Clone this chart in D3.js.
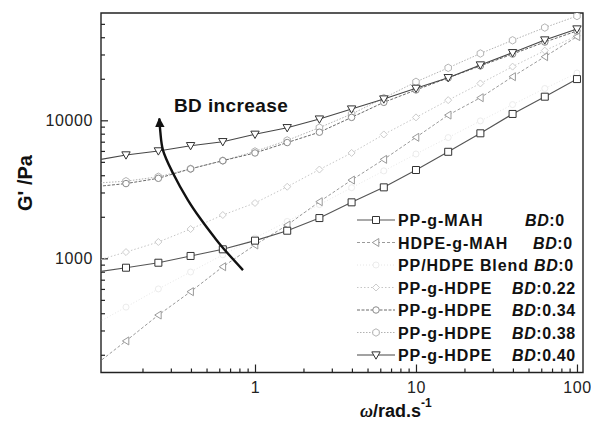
<!DOCTYPE html>
<html><head><meta charset="utf-8">
<script src="https://cdn.jsdelivr.net/npm/d3@7"></script>
<style>body{margin:0;background:#fff} svg{display:block}</style>
</head><body><svg id="c" width="591" height="427"></svg>
<script>
// ---- data ----
const freq     = [0.1, 0.158, 0.251, 0.398, 0.631, 1, 1.585, 2.512, 3.981, 6.31, 10, 15.85, 25.12, 39.81, 63.1, 100];
const ppGMah   = [790, 855, 929, 1040, 1162, 1343, 1585, 1958, 2545, 3268, 4364, 5915, 8051, 11120, 14830, 19900];
const hdpeGMah = [166, 252, 388, 573, 869, 1249, 1741, 2571, 3690, 5212, 7530, 10910, 14580, 20700, 28900, 40400];
const blend    = [330, 443, 600, 796, 1060, 1403, 1850, 2450, 3250, 4300, 5700, 7500, 9900, 13000, 17000, 22000];
const bd022    = [950, 1110, 1313, 1630, 2060, 2518, 3300, 4400, 5800, 7900, 10500, 14000, 18500, 24500, 32000, 41000];
const bd034    = [3300, 3480, 3800, 4450, 5100, 5800, 6900, 8200, 10500, 13500, 16600, 20300, 24800, 30200, 36900, 44400];
const bd038    = [3500, 3620, 3900, 4450, 5100, 5950, 7150, 8850, 11100, 14500, 19000, 24000, 30500, 38000, 47000, 57000];
const bd040    = [5100, 5610, 6000, 6550, 7000, 7920, 8840, 10210, 12070, 14270, 17050, 20370, 25180, 30900, 38200, 45900];
const seriesNames = ["PP-g-MAH", "HDPE-g-MAH", "PP/HDPE Blend", "PP-g-HDPE", "PP-g-HDPE", "PP-g-HDPE", "PP-g-HDPE"];
const bdValues    = [":0", ":0", ":0", ":0.22", ":0.34", ":0.38", ":0.40"];
const xMajor = [1, 10, 100];
const xMinor = [0.2,0.3,0.4,0.5,0.6,0.7,0.8,0.9, 2,3,4,5,6,7,8,9, 20,30,40,50,60,70,80,90];
const yMajor = [1000, 10000];
const yMinor = [200,300,400,500,600,700,800,900, 2000,3000,4000,5000,6000,7000,8000,9000, 20000,30000,40000,50000];
// arrow annotation path in data coordinates (omega, G')
const arrowW = [0.842, 0.633, 0.564, 0.455, 0.383, 0.309, 0.268, 0.258, 0.2545];
const arrowG = [822, 1188, 1403, 1958, 2643, 4150, 6085, 8300, 10300];

// ---- styles ----
const FONT = "Arial, 'Liberation Sans', Helvetica, sans-serif";
const triDown = {draw(c, s){ const r = Math.sqrt(s)/2; c.moveTo(-r,-r*0.75); c.lineTo(r,-r*0.75); c.lineTo(0,r); c.closePath(); }};
const triLeft = {draw(c, s){ const r = Math.sqrt(s)/2; c.moveTo(-r*0.9,0); c.lineTo(r*0.7,-r); c.lineTo(r*0.7,r); c.closePath(); }};
const hexagon = {draw(c, s){ const r = Math.sqrt(s)/2; for(let i=0;i<6;i++){const a=Math.PI/6+i*Math.PI/3; i?c.lineTo(r*Math.cos(a),r*Math.sin(a)):c.moveTo(r*Math.cos(a),r*Math.sin(a));} c.closePath(); }};
const square = {draw(c, s){ const r = Math.sqrt(s)/2; c.rect(-r,-r,2*r,2*r); }};
const circle = {draw(c, s){ const r = Math.sqrt(s)/2; c.moveTo(r,0); c.arc(0,0,r,0,2*Math.PI); }};
const diamond = {draw(c, s){ const r = Math.sqrt(s)/2; c.moveTo(0,-r); c.lineTo(r,0); c.lineTo(0,r); c.lineTo(-r,0); c.closePath(); }};

const series = [
  {vals: ppGMah,   stroke:"#555", mk:"#333", dash:null,      sym:square,  size:49, w:1.1},
  {vals: hdpeGMah, stroke:"#9a9a9a", mk:"#9a9a9a", dash:"3,2", sym:triLeft, size:64, w:1},
  {vals: blend,    stroke:"#e6e6e6", mk:"#ececec", dash:"1,2", sym:circle,  size:36, w:1},
  {vals: bd022,    stroke:"#c6c6c6", mk:"#cccccc", dash:"1.5,2", sym:diamond, size:49, w:1},
  {vals: bd034,    stroke:"#6a6a6a", mk:"#8a8a8a", dash:"3,1.5", sym:circle, size:42, w:1},
  {vals: bd038,    stroke:"#b2b2b2", mk:"#b4b4b4", dash:"1.5,1.5", sym:hexagon, size:56, w:1},
  {vals: bd040,    stroke:"#474747", mk:"#333", dash:null,      sym:triDown, size:70, w:1.1}
];
const drawOrder = [2,3,5,1,4,0,6];

const L = 101, R = 583, T = 13, B = 372.5;
const x = d3.scaleLog().domain([0.1105, 109]).range([L, R]);
const y = d3.scaleLog().domain([148.8, 59930]).range([B, T]);

const svg = d3.select("#c");
svg.append("defs").append("clipPath").attr("id","clip")
  .append("rect").attr("x",L).attr("y",T).attr("width",R-L).attr("height",B-T);
svg.select("defs").append("marker").attr("id","ah").attr("viewBox","0 0 10 10")
  .attr("refX",9).attr("refY",5).attr("markerWidth",4).attr("markerHeight",4.6)
  .attr("orient","auto").attr("markerUnits","strokeWidth")
  .append("path").attr("d","M0,0 L10,5 L0,10 Z").attr("fill","#111");

// axes
function styleAxis(g){ g.select(".domain").remove(); g.selectAll("line").attr("stroke","#222").attr("stroke-width",1.2);
  g.selectAll("text").attr("font-family",FONT).attr("font-size",16).attr("fill","#222").attr("letter-spacing","0.6px"); }
svg.append("g").attr("transform",`translate(0,${B})`)
  .call(d3.axisBottom(x).tickValues(xMajor).tickSizeInner(-8).tickSizeOuter(0).tickPadding(9).tickFormat(d3.format("d"))).call(styleAxis);
svg.append("g").attr("transform",`translate(0,${B})`)
  .call(d3.axisBottom(x).tickValues(xMinor).tickSizeInner(-4).tickSizeOuter(0).tickFormat("")).call(styleAxis);
svg.append("g").attr("transform",`translate(${L},0)`)
  .call(d3.axisLeft(y).tickValues(yMajor).tickSizeInner(-7).tickSizeOuter(0).tickPadding(8).tickFormat(d3.format("d"))).call(styleAxis);
svg.append("g").attr("transform",`translate(${L},0)`)
  .call(d3.axisLeft(y).tickValues(yMinor).tickSizeInner(-4).tickSizeOuter(0).tickFormat("")).call(styleAxis);

svg.append("path").attr("d",`M${L},${T}H${R}V${B}H${L}Z`).attr("fill","none").attr("stroke","#222").attr("stroke-width",1.4);

// series
const plot = svg.append("g").attr("clip-path","url(#clip)");
const line = d3.line().x((d,i)=>x(freq[i])).y(d=>y(d));
drawOrder.forEach(k=>{
  const s = series[k];
  plot.append("path").attr("d",line(s.vals)).attr("fill","none").attr("stroke",s.stroke)
    .attr("stroke-width",s.w).attr("stroke-dasharray",s.dash);
  plot.selectAll(null).data(s.vals).enter().append("path")
    .attr("transform",(d,i)=>`translate(${x(freq[i])},${y(d)})`)
    .attr("d",d3.symbol().type(s.sym).size(s.size)()).attr("fill","#fff").attr("stroke",s.mk).attr("stroke-width",1);
});

// arrow annotation
const aline = d3.line().x((d,i)=>x(arrowW[i])).y(d=>y(d)).curve(d3.curveCatmullRom);
svg.append("path").attr("d",aline(arrowG)).attr("fill","none").attr("stroke","#111").attr("stroke-width",2.4)
  .attr("marker-end","url(#ah)");
svg.append("text").attr("x",174).attr("y",112).attr("font-family",FONT).attr("font-weight","bold")
  .attr("font-size",19).attr("letter-spacing","0.4px").attr("fill","#111").text("BD increase");

// legend
const legY0 = 220, legDy = 22.5;
const bdX = [525, 533, 534, 512, 512, 512, 512];
series.forEach((s,i)=>{
  const yy = legY0 + i*legDy;
  const g = svg.append("g");
  g.append("line").attr("x1",357).attr("x2",395).attr("y1",yy).attr("y2",yy)
    .attr("stroke",s.stroke).attr("stroke-width",s.w).attr("stroke-dasharray",s.dash);
  g.append("path").attr("transform",`translate(376,${yy})`).attr("d",d3.symbol().type(s.sym).size(s.size)())
    .attr("fill","#fff").attr("stroke",s.mk);
  g.append("text").attr("x",398).attr("y",yy+6).attr("font-family",FONT).attr("font-weight","bold")
    .attr("font-size",16).attr("letter-spacing","0.9px").attr("fill","#111").text(seriesNames[i]);
  const t = g.append("text").attr("x",bdX[i]).attr("y",yy+6).attr("font-family",FONT).attr("font-weight","bold")
    .attr("font-size",16).attr("letter-spacing","0.6px").attr("fill","#111");
  t.append("tspan").attr("font-style","italic").text("BD");
  t.append("tspan").text(bdValues[i]);
});

// axis titles
svg.append("text").attr("transform","translate(32,183) rotate(-90)").attr("text-anchor","middle")
  .attr("font-family",FONT).attr("font-weight","bold").attr("font-size",20).attr("fill","#111").text("G' /Pa");
const xt = svg.append("text").attr("x",360).attr("y",417).attr("text-anchor","start")
  .attr("font-family",FONT).attr("font-weight","bold").attr("font-size",18).attr("fill","#111");
xt.append("tspan").attr("font-style","italic").attr("font-family","'Times New Roman','Liberation Serif',serif").text("ω");
xt.append("tspan").text("/rad.s");
xt.append("tspan").attr("dy",-10).attr("font-size",12).text("-1");
</script></body></html>
